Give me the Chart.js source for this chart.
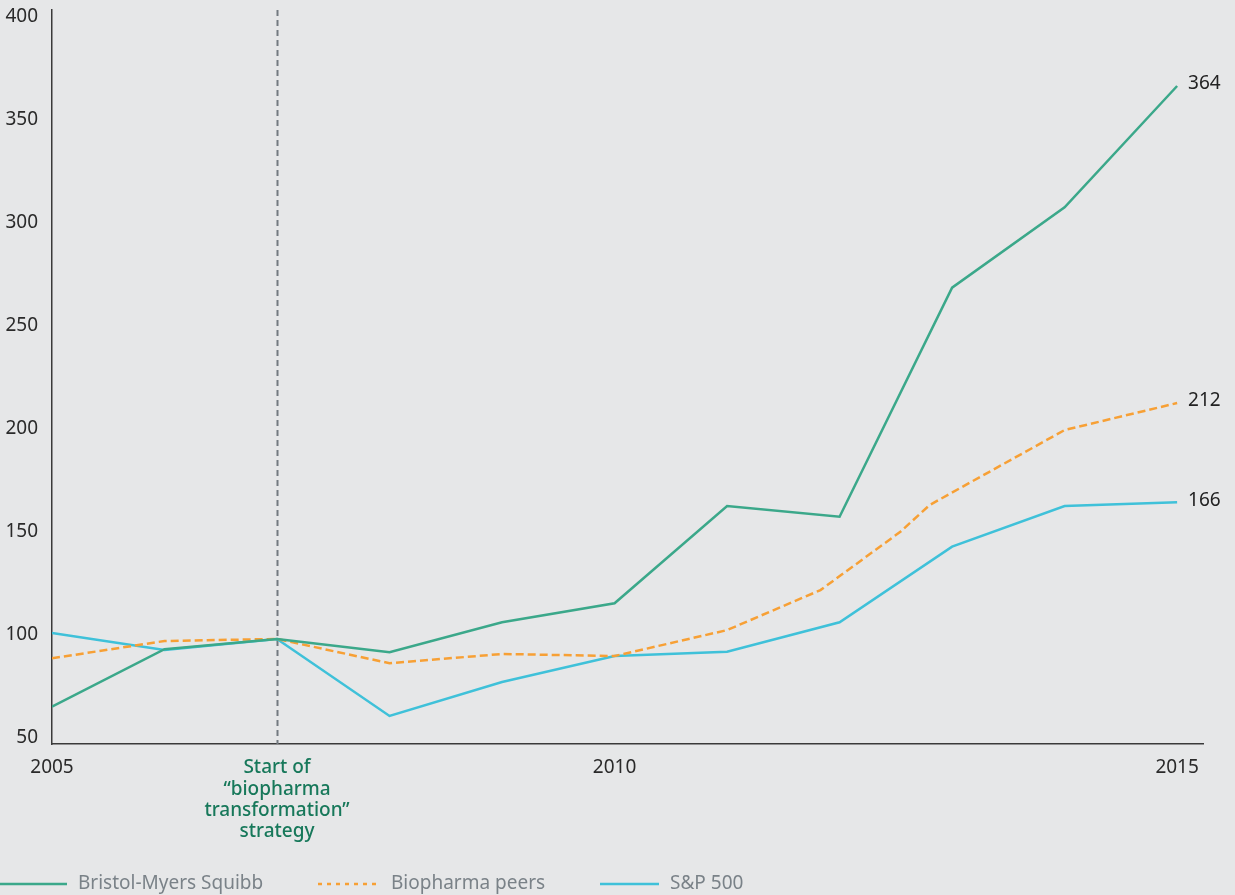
<!DOCTYPE html>
<html>
<head>
<meta charset="utf-8">
<script src="https://cdn.jsdelivr.net/npm/chart.js@4.4.0/dist/chart.umd.min.js"></script>
<style>
  html, body { margin: 0; padding: 0; background: #e6e7e8; }
  #wrap { width: 1235px; height: 895px; }
</style>
</head>
<body>
<div id="wrap"><canvas id="c" width="1235" height="895"></canvas></div>
<script>
// ---- data ----
const years = [2005, 2006, 2007, 2008, 2009, 2010, 2011, 2012, 2013, 2014, 2015];
const bmsValues = [65.2, 93.1, 98.1, 91.6, 106.2, 115.4, 162.6, 157.4, 268.6, 307.6, 366.5];
const peersYears = [2005, 2006, 2007, 2008, 2009, 2010, 2011, 2011.83, 2012.54, 2012.8, 2014, 2015];
const peersValues = [88.7, 97.1, 98.1, 86.3, 90.8, 89.8, 102.4, 121.8, 150.1, 163.1, 199.5, 212.6];
const spValues = [101, 92.7, 98.1, 60.7, 77.2, 89.8, 91.9, 106.2, 142.9, 162.6, 164.4];
const seriesNames = ['Bristol-Myers Squibb', 'Biopharma peers', 'S&P 500'];
const endLabels = ['364', '212', '166'];
const xTicks = [2005, 2010, 2015];
const yTicks = [50, 100, 150, 200, 250, 300, 350, 400];
const markerYear = 2007;
const markerText = ['Start of', '\u201Cbiopharma', 'transformation\u201D', 'strategy'];

const FONT = '"Noto Sans", "Open Sans", sans-serif';
const COLORS = ['#3ba88a', '#f7a035', '#3fc1d9'];

const toPts = (xs, ys) => xs.map((x, i) => ({ x: x, y: ys[i] }));

const overlay = {
  id: 'overlay',
  beforeDatasetsDraw(chart) {
    const { ctx, chartArea, scales } = chart;
    const x = Math.round(scales.x.getPixelForValue(markerYear)) + 0.5;
    ctx.save();
    ctx.strokeStyle = '#737a80';
    ctx.lineWidth = 2;
    ctx.setLineDash([6, 4]);
    ctx.beginPath();
    ctx.moveTo(x, chartArea.top);
    ctx.lineTo(x, chartArea.bottom);
    ctx.stroke();
    ctx.restore();
  },
  afterDraw(chart) {
    const { ctx, scales } = chart;
    ctx.save();
    // annotation text below the axis
    const x = scales.x.getPixelForValue(markerYear);
    ctx.fillStyle = '#17785a';
    ctx.font = '500 19px ' + FONT;
    ctx.textAlign = 'center';
    ctx.textBaseline = 'middle';
    markerText.forEach((t, i) => ctx.fillText(t, x, 768 + i * 21.3));

    // end labels
    ctx.fillStyle = '#222222';
    ctx.font = '19px ' + FONT;
    ctx.textAlign = 'left';
    chart.data.datasets.forEach((ds, i) => {
      const meta = chart.getDatasetMeta(i);
      const last = meta.data[meta.data.length - 1];
      ctx.fillText(endLabels[i], last.x + 11, last.y - 2);
    });

    // legend
    const starts = [0, 318, 600];
    const lens = [67, 62, 59];
    const ly = 884;
    chart.data.datasets.forEach((ds, i) => {
      ctx.strokeStyle = ds.borderColor;
      ctx.lineWidth = 2.5;
      ctx.setLineDash(i === 1 ? [4, 5] : []);
      ctx.beginPath();
      ctx.moveTo(starts[i], ly);
      ctx.lineTo(starts[i] + lens[i], ly);
      ctx.stroke();
      ctx.setLineDash([]);
      ctx.fillStyle = '#7a8288';
      ctx.font = '19px ' + FONT;
      ctx.textAlign = 'left';
      ctx.textBaseline = 'middle';
      ctx.fillText(ds.label, starts[i] + lens[i] + 11, ly);
    });
    ctx.restore();
  }
};

new Chart(document.getElementById('c'), {
  type: 'line',
  data: {
    datasets: [
      { label: seriesNames[0], data: toPts(years, bmsValues), borderColor: COLORS[0], borderWidth: 2.5, pointRadius: 0, tension: 0 },
      { label: seriesNames[1], data: toPts(peersYears, peersValues), borderColor: COLORS[1], borderWidth: 2.5, borderDash: [8, 4], pointRadius: 0, tension: 0 },
      { label: seriesNames[2], data: toPts(years, spValues), borderColor: COLORS[2], borderWidth: 2.5, pointRadius: 0, tension: 0 }
    ]
  },
  options: {
    responsive: false,
    animation: false,
    layout: { padding: { top: 10, right: 32, left: 0, bottom: 0 } },
    plugins: { legend: { display: false }, tooltip: { enabled: false } },
    scales: {
      x: {
        type: 'linear',
        min: 2005,
        max: 2015.23,
        afterBuildTicks: (s) => { s.ticks = xTicks.map(v => ({ value: v })); },
        afterFit: (s) => { s.height = 151; s.paddingLeft = 0; s.paddingRight = 0; },
        grid: { display: true, drawOnChartArea: false, drawTicks: false },
        border: { display: true, color: '#3a3a3a', width: 1.5 },
        ticks: {
          padding: 12,
          color: '#2a2a2a',
          font: { family: FONT, size: 19 },
          maxRotation: 0,
          callback: (v) => String(v)
        }
      },
      y: {
        min: 47.1,
        max: 403.4,
        afterBuildTicks: (s) => { s.ticks = yTicks.map(v => ({ value: v })); },
        afterFit: (s) => { s.width = 52; s.paddingTop = 0; s.paddingBottom = 0; },
        grid: { display: true, drawOnChartArea: false, drawTicks: false },
        border: { display: true, color: '#3a3a3a', width: 1.5 },
        ticks: {
          padding: 14,
          color: '#2a2a2a',
          font: { family: FONT, size: 19 },
          callback: (v) => String(v)
        }
      }
    }
  },
  plugins: [overlay]
});
</script>
</body>
</html>
